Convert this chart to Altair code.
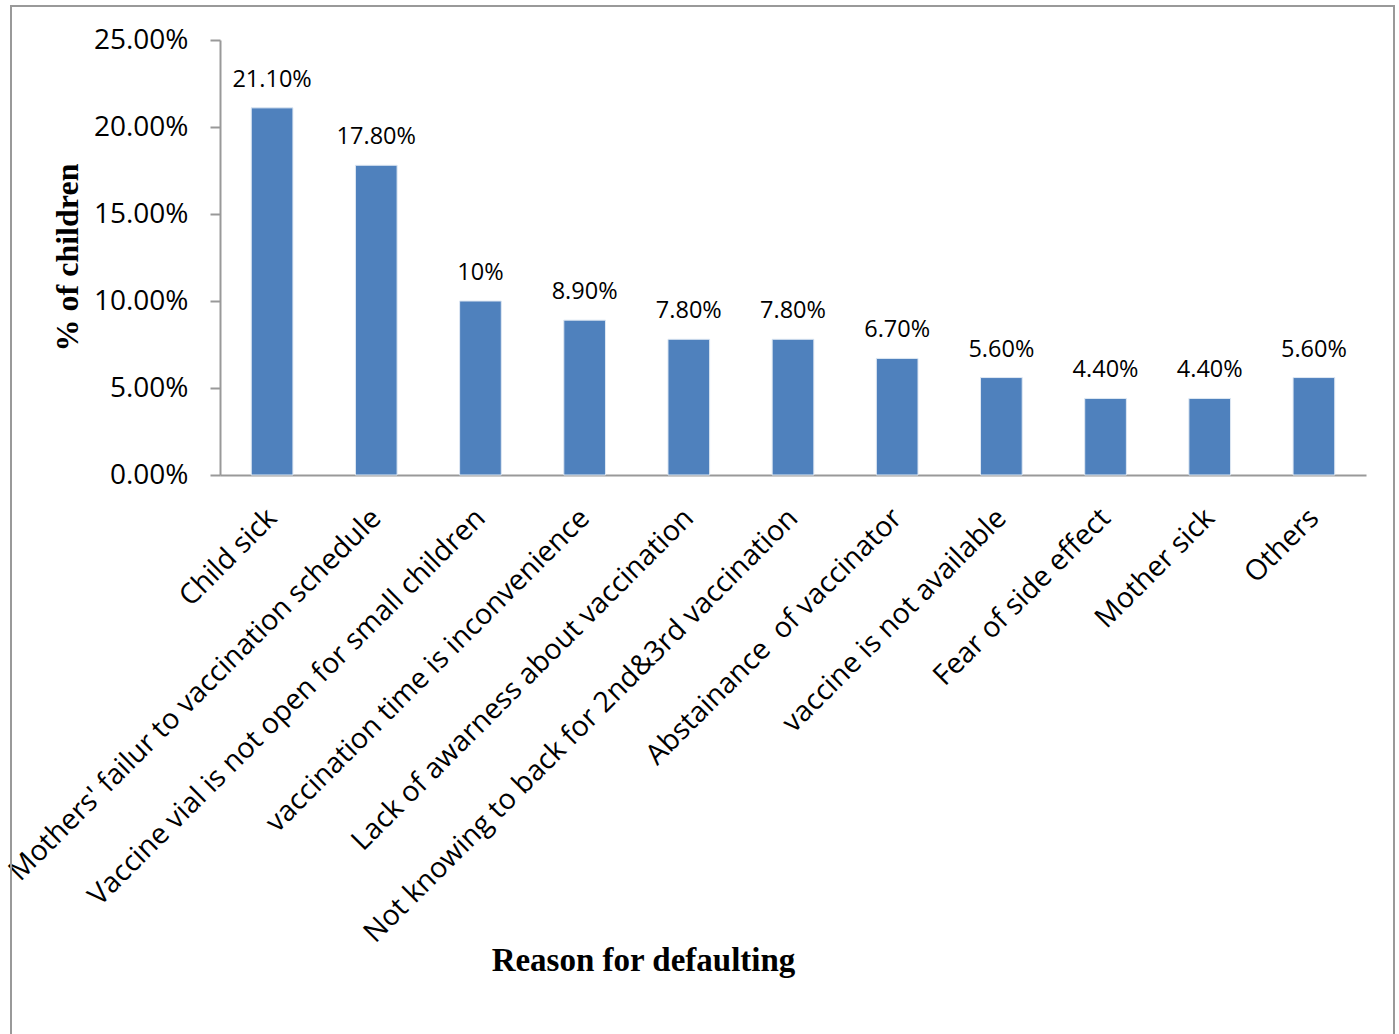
import altair as alt
import pandas as pd

reasons = [
    "Child sick",
    "Mothers' failur to vaccination schedule",
    "Vaccine vial is not open for small children",
    "vaccination time is inconvenience",
    "Lack of awarness about vaccination",
    "Not knowing to back for 2nd&3rd vaccination",
    "Abstainance \u00a0of vaccinator",
    "vaccine is not available",
    "Fear of side effect",
    "Mother sick",
    "Others",
]
values = [21.10, 17.80, 10.0, 8.90, 7.80, 7.80, 6.70, 5.60, 4.40, 4.40, 5.60]
value_labels = ["21.10%", "17.80%", "10%", "8.90%", "7.80%", "7.80%", "6.70%",
                "5.60%", "4.40%", "4.40%", "5.60%"]
y_ticks = [0, 5, 10, 15, 20, 25]

df = pd.DataFrame({"reason": reasons, "value": [v / 100 for v in values],
                   "label": value_labels})

W, H = 1146, 435
FONT = "Open Sans"

x = alt.X(
    "reason:N",
    sort=reasons,
    scale=alt.Scale(paddingInner=0.6, paddingOuter=0.3),
    axis=alt.Axis(
        title="Reason for defaulting",
        titleFont="Liberation Serif",
        titleFontSize=33,
        titleFontWeight="bold",
        titleColor="black",
        titleX=423,
        titleY=485,
        titleBaseline="middle",
        labelAngle=-45,
        labelAlign="right",
        labelBaseline="middle",
        labelFont=FONT,
        labelFontSize=28.5,
        labelColor="black",
        labelPadding=38,
        labelLimit=0,
        ticks=False,
        domainColor="#999999",
        domainWidth=2,
    ),
)

y = alt.Y(
    "value:Q",
    scale=alt.Scale(domain=[0, 0.25], nice=False),
    axis=alt.Axis(
        title="% of children",
        titleFont="Liberation Serif",
        titleFontSize=32,
        titleFontWeight="bold",
        titleColor="black",
        titleX=-153,
        titleY=217,
        titleAngle=-90,
        titleBaseline="middle",
        values=[t / 100 for t in y_ticks],
        format=".2%",
        labelFont=FONT,
        labelFontSize=28,
        labelColor="black",
        labelPadding=22,
        tickSize=10,
        tickColor="#999999",
        tickWidth=2,
        domainColor="#999999",
        domainWidth=2,
        grid=False,
    ),
)

bars = alt.Chart(df).mark_bar(color="#4F81BD", stroke="#dfe8f3", strokeWidth=1).encode(x=x, y=y)

text = alt.Chart(df).mark_text(
    font=FONT, fontSize=23.5, color="black", dy=-28, baseline="middle"
).encode(x=alt.X("reason:N", sort=reasons), y="value:Q", text="label:N")

border = alt.Chart(pd.DataFrame({"k": [0]})).mark_rect(
    fill=None, stroke="#999999", strokeWidth=2
).encode(
    x=alt.value(-209), x2=alt.value(1174), y=alt.value(-34), y2=alt.value(1100)
)

chart = (
    alt.layer(border, bars, text)
    .properties(
        width=W,
        height=H,
        autosize=alt.AutoSizeParams(type="none"),
        padding={"left": 220, "top": 40, "right": 33, "bottom": 559},
        background="white",
    )
    .configure_view(stroke=None)
)

chart.save("out.html", embed_options={"renderer": "svg", "actions": False})
